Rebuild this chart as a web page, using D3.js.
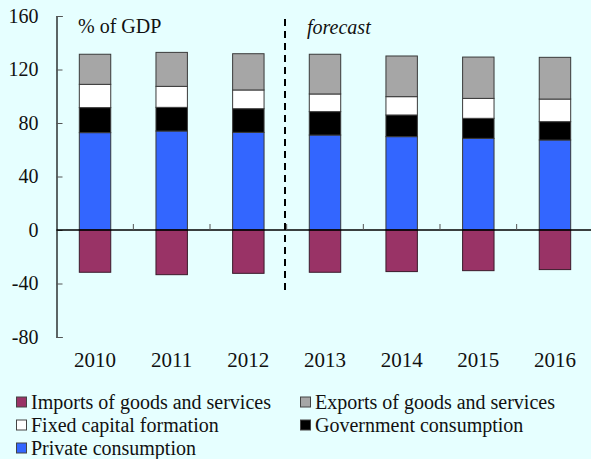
<!DOCTYPE html>
<html>
<head>
<meta charset="utf-8">
<script src="https://cdn.jsdelivr.net/npm/d3@7"></script>
<style>
  body { margin: 0; background: #e6ffff; }
  svg { display: block; }
  svg text { font-family: "Liberation Serif", "Times New Roman", serif; }
</style>
</head>
<body>
<div id="chart"></div>
<script>
// Data (% of GDP)
var years = ['2010', '2011', '2012', '2013', '2014', '2015', '2016'];
var privateCons = [72.8, 74.0, 73.0, 71.0, 69.8, 68.5, 67.3];
var govCons = [18.7, 17.7, 17.7, 17.5, 16.2, 15.0, 13.7];
var fixedCap = [17.4, 15.7, 14.0, 13.2, 13.7, 14.9, 16.9];
var exportsGS = [22.5, 25.4, 27.1, 29.7, 30.4, 30.9, 31.2];
var importsGS = [-31.6, -33.4, -32.4, -31.6, -31.1, -30.4, -29.6];
var yTicks = [-80, -40, 0, 40, 80, 120, 160];

// stacking order bottom -> top for positive part
var series = [
    { name: 'Private consumption', values: privateCons, color: '#3366ff' },
    { name: 'Government consumption', values: govCons, color: '#000000' },
    { name: 'Fixed capital formation', values: fixedCap, color: '#ffffff' },
    { name: 'Exports of goods and services', values: exportsGS, color: '#a6a6a6' }
];
var imports = { name: 'Imports of goods and services', values: importsGS, color: '#993366' };

var svgWidth = 591;
var svgHeight = 459;
var fontFam = '"Liberation Serif", "Times New Roman", serif';

var svg = d3.select('#chart')
    .append('svg')
    .attr('width', svgWidth)
    .attr('height', svgHeight);

svg.append('rect')
    .attr('width', svgWidth)
    .attr('height', svgHeight)
    .attr('fill', '#e6ffff');

var x = d3.scaleBand()
    .domain(years)
    .range([56.7, 593.3])
    .paddingInner(0.59)
    .paddingOuter(0.295);

var xb = d3.scaleBand().domain(years).range([56.7, 593.3]);

var y = d3.scaleLinear()
    .domain([-80, 160])
    .range([337, 16]);

// stacked positive bars
var stacked = years.map(function(yr, i) {
    var base = 0;
    return series.map(function(s) {
        var seg = { year: yr, y0: base, y1: base + s.values[i], color: s.color };
        base += s.values[i];
        return seg;
    });
});

var barGroup = svg.append('g');

stacked.forEach(function(segs) {
    barGroup.selectAll(null)
        .data(segs)
        .enter()
        .append('rect')
        .attr('x', d => x(d.year))
        .attr('width', x.bandwidth())
        .attr('y', d => y(d.y1))
        .attr('height', d => y(d.y0) - y(d.y1))
        .attr('fill', d => d.color)
        .attr('stroke', '#3a3a3a')
        .attr('stroke-width', 1);
});

barGroup.selectAll('.imp')
    .data(years)
    .enter()
    .append('rect')
    .attr('class', 'imp')
    .attr('x', d => x(d))
    .attr('width', x.bandwidth())
    .attr('y', y(0))
    .attr('height', (d, i) => y(imports.values[i]) - y(0))
    .attr('fill', imports.color)
    .attr('stroke', '#3a1a2a')
    .attr('stroke-width', 1);

// y axis
var yAxis = d3.axisLeft(y)
    .tickValues(yTicks)
    .tickSize(-6)
    .tickPadding(18)
    .tickFormat(d => String(d));

var yg = svg.append('g')
    .attr('transform', 'translate(56.5,0)')
    .call(yAxis)
    .attr('font-family', fontFam)
    .attr('font-size', 20);
yg.select('.domain').attr('stroke', '#000').attr('stroke-width', 1.2);
yg.selectAll('.tick line').attr('stroke', '#555');
yg.selectAll('.tick text').attr('fill', '#111');

// zero line with category separator ticks
svg.append('line')
    .attr('x1', 56.5)
    .attr('x2', svgWidth)
    .attr('y1', y(0))
    .attr('y2', y(0))
    .attr('stroke', '#000')
    .attr('stroke-width', 1.5);

svg.selectAll('.sep')
    .data(years.slice(1))
    .enter()
    .append('line')
    .attr('class', 'sep')
    .attr('x1', d => xb(d))
    .attr('x2', d => xb(d))
    .attr('y1', y(0))
    .attr('y2', y(0) - 6)
    .attr('stroke', '#555');

// year labels
svg.selectAll('.yr')
    .data(years)
    .enter()
    .append('text')
    .attr('class', 'yr')
    .attr('x', d => xb(d) + xb.bandwidth() / 2)
    .attr('y', 367)
    .attr('text-anchor', 'middle')
    .attr('font-family', fontFam)
    .attr('font-size', 21)
    .attr('fill', '#111')
    .text(d => d);

// forecast divider
svg.append('line')
    .attr('x1', 285)
    .attr('x2', 285)
    .attr('y1', 19)
    .attr('y2', 292)
    .attr('stroke', '#000')
    .attr('stroke-width', 2)
    .attr('stroke-dasharray', '7,5');

svg.append('text')
    .attr('x', 78)
    .attr('y', 33)
    .attr('font-family', fontFam)
    .attr('font-size', 20)
    .attr('fill', '#111')
    .text('% of GDP');

svg.append('text')
    .attr('x', 307)
    .attr('y', 34)
    .attr('font-family', fontFam)
    .attr('font-size', 20)
    .attr('font-style', 'italic')
    .attr('fill', '#111')
    .text('forecast');

// legend
var legendItems = [
    { name: imports.name, color: imports.color, lx: 16, ly: 402 },
    { name: series[3].name, color: series[3].color, lx: 300, ly: 402 },
    { name: series[2].name, color: series[2].color, lx: 16, ly: 425 },
    { name: series[1].name, color: series[1].color, lx: 300, ly: 425 },
    { name: series[0].name, color: series[0].color, lx: 16, ly: 448 }
];

var lg = svg.selectAll('.lg')
    .data(legendItems)
    .enter()
    .append('g')
    .attr('class', 'lg')
    .attr('transform', d => `translate(${d.lx},${d.ly})`);

lg.append('rect')
    .attr('x', 0.5)
    .attr('y', -5)
    .attr('width', 10)
    .attr('height', 10)
    .attr('fill', d => d.color)
    .attr('stroke', '#444')
    .attr('stroke-width', 1);

lg.append('text')
    .attr('x', 15)
    .attr('y', 7)
    .attr('font-family', fontFam)
    .attr('font-size', 20)
    .attr('fill', '#111')
    .text(d => d.name);
</script>
</body>
</html>
